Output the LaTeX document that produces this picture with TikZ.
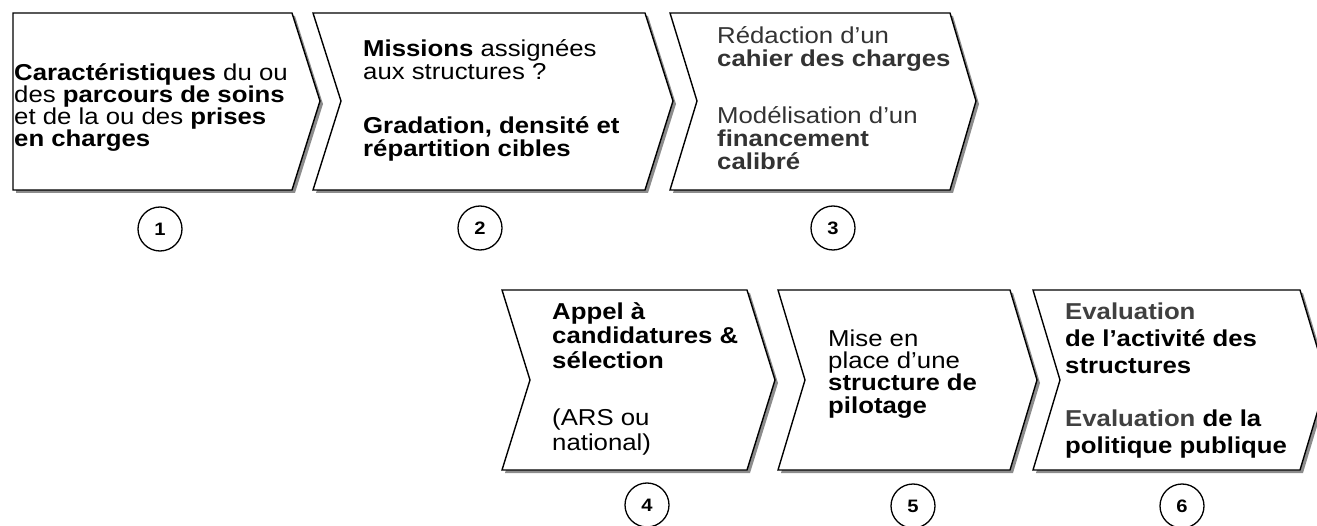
\documentclass[tikz,border=0pt]{standalone}
\usepackage{fontspec}
\setmainfont{Liberation Sans}[FakeStretch=1.12]
\definecolor{txtgray}{HTML}{333333}
\definecolor{evgray}{HTML}{404040}
\definecolor{shadowgray}{HTML}{8C8C8C}
\newcommand{\firstln}{\rule{0pt}{22pt}}
\begin{document}
\begin{tikzpicture}[x=1pt,y=-1pt,
  chevline/.style={draw=black,line width=1.4pt,fill=white,line join=miter},
  chevshadow/.style={fill=shadowgray,draw=none},
  chevtext/.style={anchor=north west,inner sep=0pt,align=left},
  numcircle/.style={circle,draw=black,line width=1.3pt,minimum size=44pt,inner sep=0pt,font=\fontsize{18}{18}\selectfont\bfseries}]
\useasboundingbox (0,0) rectangle (1317,526);
\clip (0,0) rectangle (1317,526);
% chevron 1 (flat left)
\fill[chevshadow] (16,16) -- (295,16) -- (323,104) -- (295,193) -- (16,193) -- cycle;
\draw[chevline] (13,13) -- (292,13) -- (320,101) -- (292,190) -- (13,190) -- cycle;
% chevron 2
\fill[chevshadow] (316,16) -- (648,16) -- (676,104) -- (648,193) -- (316,193) -- (344,104) -- cycle;
\draw[chevline] (313,13) -- (645,13) -- (673,101) -- (645,190) -- (313,190) -- (341,101) -- cycle;
% chevron 3
\fill[chevshadow] (673,16) -- (953,16) -- (979,104) -- (953,193) -- (673,193) -- (700,104) -- cycle;
\draw[chevline] (670,13) -- (950,13) -- (976,101) -- (950,190) -- (670,190) -- (697,101) -- cycle;
% chevron 4
\fill[chevshadow] (505,293) -- (750,293) -- (778,383) -- (750,473) -- (505,473) -- (533,383) -- cycle;
\draw[chevline] (502,290) -- (747,290) -- (775,380) -- (747,470) -- (502,470) -- (530,380) -- cycle;
% chevron 5
\fill[chevshadow] (781,293) -- (1013,293) -- (1040,383) -- (1013,473) -- (781,473) -- (808,383) -- cycle;
\draw[chevline] (778,290) -- (1010,290) -- (1037,380) -- (1010,470) -- (778,470) -- (805,380) -- cycle;
% chevron 6
\fill[chevshadow] (1036,293) -- (1303,293) -- (1330,383) -- (1303,473) -- (1036,473) -- (1063,383) -- cycle;
\draw[chevline] (1033,290) -- (1300,290) -- (1327,380) -- (1300,470) -- (1033,470) -- (1060,380) -- cycle;

% texts
\node[chevtext,font=\fontsize{23}{22}\selectfont] (t1) at (14,58)
  {\firstln\textbf{Caractéristiques} du ou\\des \textbf{parcours de soins}\\et de la ou des \textbf{prises}\\\textbf{en charges}};
\node[chevtext,font=\fontsize{23}{23}\selectfont] (t2) at (363,34)
  {\firstln\textbf{Missions} assignées\\aux structures ?\\[31pt]\textbf{Gradation, densité et}\\\textbf{répartition cibles}};
\node[chevtext,text=txtgray,font=\fontsize{23}{23}\selectfont] (t3) at (717,21)
  {\firstln Rédaction d'un\\\textbf{cahier des charges}\\[34pt]Modélisation d'un\\\textbf{financement}\\\textbf{calibré}};
\node[chevtext,font=\fontsize{23}{24.5}\selectfont] (t4) at (552,297)
  {\firstln\textbf{Appel à}\\\textbf{candidatures \&}\\\textbf{sélection}\\[33pt](ARS ou\\national)};
\node[chevtext,font=\fontsize{23}{22.3}\selectfont] (t5) at (828,324)
  {\firstln Mise en\\place d’une\\\textbf{structure de}\\\textbf{pilotage}};
\node[chevtext,font=\fontsize{23}{27}\selectfont\bfseries] (t6) at (1065,297)
  {\firstln\textcolor{evgray}{Evaluation}\\de l’activité des\\structures\\[26pt]\textcolor{evgray}{Evaluation} de la\\politique publique};

% number circles
\node[numcircle] (c1) at (160,229) {1};
\node[numcircle] (c2) at (480,228) {2};
\node[numcircle] (c3) at (833,228) {3};
\node[numcircle] (c4) at (647,505) {4};
\node[numcircle] (c5) at (913,506) {5};
\node[numcircle] (c6) at (1182,506) {6};
\end{tikzpicture}
\end{document}
